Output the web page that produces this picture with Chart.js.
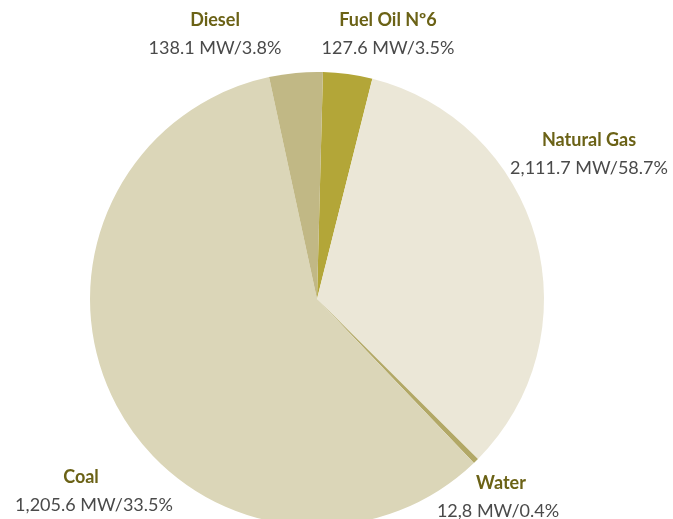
<!DOCTYPE html>
<html>
<head>
<meta charset="utf-8">
<script src="https://cdn.jsdelivr.net/npm/chart.js@4/dist/chart.umd.min.js"></script>
<style>
  html, body { margin: 0; padding: 0; background: #fff; overflow: hidden; }
  #wrap { width: 673px; height: 540px; }
</style>
</head>
<body>
<div id="wrap"><canvas id="pie" width="673" height="540"></canvas></div>
<script>
// slices, clockwise from 12 o'clock
const categories = ['Fuel Oil Nº6', 'Natural Gas', 'Water', 'Coal', 'Diesel'];
const mwLabels = ['127.6', '2,111.7', '12,8', '1,205.6', '138.1'];
const shareLabels = ['3.5', '58.7', '0.4', '33.5', '3.8'];
// slice sizes as drawn in the picture (%)
const sliceValues = [3.5, 33.5, 0.4, 58.7, 3.8];
const sliceColors = ['#b3a638', '#ebe7d7', '#b2a866', '#dbd6b8', '#c1b885'];

// label anchors, offset from pie centre (px)
const labelOffsets = [[71, -279], [272, -159], [184, 184], [-236, 178], [-102, -279]];
const valueShift = [0, 0, -3, 13, 0];

const labelPlugin = {
    id: 'sliceLabels',
    afterDraw(chart) {
        const ctx = chart.ctx;
        const arc = chart.getDatasetMeta(0).data[0];
        const cx = arc.x, cy = arc.y;
        ctx.save();
        ctx.textAlign = 'center';
        ctx.textBaseline = 'middle';
        categories.forEach((name, i) => {
            const x = cx + labelOffsets[i][0];
            const y = cy + labelOffsets[i][1];
            ctx.font = 'bold 18px Lato';
            ctx.fillStyle = '#6b6216';
            ctx.fillText(name, x, y);
            ctx.font = '18px Lato';
            ctx.fillStyle = '#4a4a4a';
            ctx.fillText(`${mwLabels[i]} MW/${shareLabels[i]}%`, x + valueShift[i], y + 28);
        });
        ctx.restore();
    }
};

new Chart(document.getElementById('pie'), {
    type: 'pie',
    data: {
        labels: categories,
        datasets: [{
            data: sliceValues,
            backgroundColor: sliceColors,
            borderWidth: 0,
        }],
    },
    options: {
        responsive: false,
        animation: false,
        rotation: 1.5,
        layout: { padding: { left: 90, right: 129, top: 72, bottom: 14 } },
        plugins: {
            legend: { display: false },
            tooltip: { enabled: false },
        },
    },
    plugins: [labelPlugin],
});
</script>
</body>
</html>
